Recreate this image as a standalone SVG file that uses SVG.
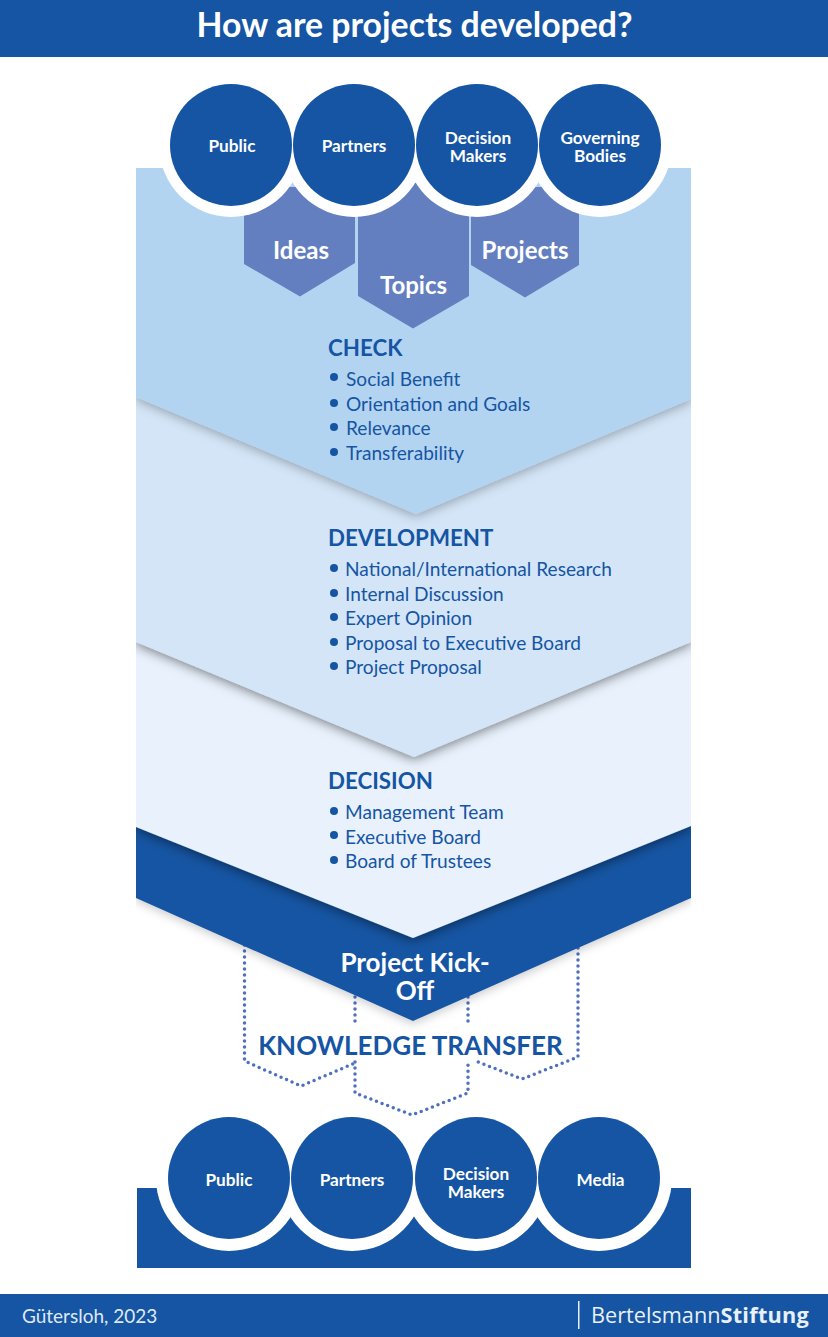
<svg xmlns="http://www.w3.org/2000/svg" width="828" height="1337" viewBox="0 0 828 1337">
<style>
text{font-family:Lato,"Liberation Sans",sans-serif}
.d{fill:#1555a3}
.ct{fill:#fff;font-size:17.2px;font-weight:700;text-anchor:middle}
.hx{fill:#fff;font-size:24px;font-weight:700;text-anchor:middle}
.h{fill:#1555a3;font-size:22.300px;font-weight:700}
.i{fill:#1555a3;font-size:19.100px}
.dot{fill:none;stroke:#4f70bf;stroke-width:3.500;stroke-linecap:round;stroke-dasharray:0 6}
.hex{fill:#647fc0}
</style>
<defs>
<filter id="sh" x="-10%" y="-10%" width="120%" height="125%"><feDropShadow dx="0" dy="2" stdDeviation="6" flood-color="#000" flood-opacity=".5"/></filter>
<filter id="sh1" x="-10%" y="-10%" width="120%" height="125%"><feDropShadow dx="0" dy="2" stdDeviation="6" flood-color="#000" flood-opacity=".32"/></filter>
<filter id="sh2" x="-10%" y="-10%" width="120%" height="125%"><feDropShadow dx="0" dy="3" stdDeviation="5" flood-color="#000" flood-opacity=".2"/></filter>
<clipPath id="cp"><rect x="136" y="168" width="555" height="900"/></clipPath>
</defs>
<rect width="828" height="1337" fill="#fff"/>
<g id="header"><rect class="d" width="828" height="57"/>
<text x="414.500" y="37" fill="#fff" font-size="33.800" font-weight="700" text-anchor="middle">How are projects developed?</text></g>

<g id="connectors">
<path class="dot" d="M244.500 945V1061L301 1086L355 1063"/>
<path class="dot" d="M355 997V1023M355 1062V1093L412 1115L468 1093V1062M468 997V1023"/>
<path class="dot" d="M578 948V1057L522 1079L478 1062"/>
</g>

<g id="stages" clip-path="url(#cp)">
<g id="kickoff"><path class="d" filter="url(#sh2)" d="M136 700H691V898L413 1021L136 898Z"/></g>
<g id="decision"><path fill="#e8f1fc" filter="url(#sh)" d="M136 600H691V826L413 938L136 827Z"/></g>
<g id="development"><path fill="#d3e5f7" filter="url(#sh)" d="M136 380H691V642L414 757L136 642Z"/></g>
<g id="check"><path fill="#b3d4f1" filter="url(#sh1)" d="M136 168H691V399L416 514L136 397Z"/></g>
</g>

<g id="hex-ideas"><path class="hex" d="M244 264V187H355V263L300 296.500Z"/></g>
<g id="hex-projects"><path class="hex" d="M471 187H579V265L525 297.500L471 265Z"/></g>
<g id="hex-topics"><path class="hex" d="M358 183H469V296L413 328.500L358 296Z"/></g>

<g fill="#fff">
<circle cx="231" cy="145" r="72"/><circle cx="354" cy="145" r="72"/><circle cx="477" cy="145" r="72"/><circle cx="600" cy="145" r="72"/>
</g>
<g id="top-public"><circle class="d" cx="231" cy="145" r="61"/><text class="ct" x="232" y="151.500">Public</text></g>
<g id="top-partners"><circle class="d" cx="354" cy="145" r="61"/><text class="ct" x="354" y="151.500">Partners</text></g>
<g id="top-decision"><circle class="d" cx="477" cy="145" r="61"/><text class="ct" x="478" y="143.500">Decision</text><text class="ct" x="478" y="161.500">Makers</text></g>
<g id="top-governing"><circle class="d" cx="600" cy="145" r="61"/><text class="ct" x="600" y="143.500">Governing</text><text class="ct" x="600" y="161.500">Bodies</text></g>

<text class="hx" x="301" y="259">Ideas</text>
<text class="hx" x="413.500" y="293.500">Topics</text>
<text class="hx" x="525" y="259">Projects</text>

<g id="check-text">
<text class="h" x="328" y="356">CHECK</text>
<g class="d"><circle cx="334" cy="377" r="4"/><circle cx="334" cy="403" r="4"/><circle cx="334" cy="427" r="4"/><circle cx="334" cy="452" r="4"/></g>
<text class="i" x="346" y="386">Social Benefit</text>
<text class="i" x="346" y="411">Orientation and Goals</text>
<text class="i" x="346" y="435">Relevance</text>
<text class="i" x="346" y="459.500">Transferability</text>
</g>
<g id="development-text">
<text class="h" x="328" y="546">DEVELOPMENT</text>
<g class="d"><circle cx="334" cy="568" r="4"/><circle cx="334" cy="593" r="4"/><circle cx="334" cy="617" r="4"/><circle cx="334" cy="642" r="4"/><circle cx="334" cy="666" r="4"/></g>
<text class="i" x="345" y="576">National/International Research</text>
<text class="i" x="345" y="601">Internal Discussion</text>
<text class="i" x="345" y="625">Expert Opinion</text>
<text class="i" x="345" y="650">Proposal to Executive Board</text>
<text class="i" x="345" y="674">Project Proposal</text>
</g>
<g id="decision-text">
<text class="h" x="328" y="789">DECISION</text>
<g class="d"><circle cx="334" cy="811" r="4"/><circle cx="334" cy="835" r="4"/><circle cx="334" cy="860" r="4"/></g>
<text class="i" x="345" y="819">Management Team</text>
<text class="i" x="345" y="844">Executive Board</text>
<text class="i" x="345" y="868">Board of Trustees</text>
</g>
<g id="kickoff-text" fill="#fff" font-size="26" font-weight="700" text-anchor="middle">
<text x="415" y="972">Project Kick-</text><text x="415" y="999.500">Off</text></g>
<text id="knowledge" x="410.500" y="1054.500" fill="#1555a3" font-size="26" font-weight="700" text-anchor="middle">KNOWLEDGE TRANSFER</text>

<g id="bottom-band"><rect class="d" x="137" y="1188" width="554" height="80"/>
<g fill="#fff"><circle cx="229" cy="1178" r="73"/><circle cx="352" cy="1178" r="73"/><circle cx="476" cy="1178" r="73"/><circle cx="599" cy="1178" r="73"/></g></g>
<g id="bottom-public"><circle class="d" cx="229" cy="1178" r="61"/><text class="ct" x="229" y="1186">Public</text></g>
<g id="bottom-partners"><circle class="d" cx="352" cy="1178" r="61"/><text class="ct" x="352" y="1186">Partners</text></g>
<g id="bottom-decision"><circle class="d" cx="476" cy="1178" r="61"/><text class="ct" x="476" y="1180">Decision</text><text class="ct" x="476" y="1198">Makers</text></g>
<g id="bottom-media"><circle class="d" cx="599" cy="1178" r="61"/><text class="ct" x="600.500" y="1186">Media</text></g>

<g id="footer"><rect class="d" y="1294" width="828" height="43"/>
<text x="22" y="1322.500" fill="#dfe9f5" font-size="19">Gütersloh, 2023</text>
<rect x="578" y="1301" width="1.500" height="28" fill="#e8f0f8"/>
<text x="591" y="1323" fill="#e8f0f8" font-size="21.700" style="font-family:'Open Sans',sans-serif">Bertelsmann<tspan font-weight="700" letter-spacing=".25">Stiftung</tspan></text></g>
</svg>
